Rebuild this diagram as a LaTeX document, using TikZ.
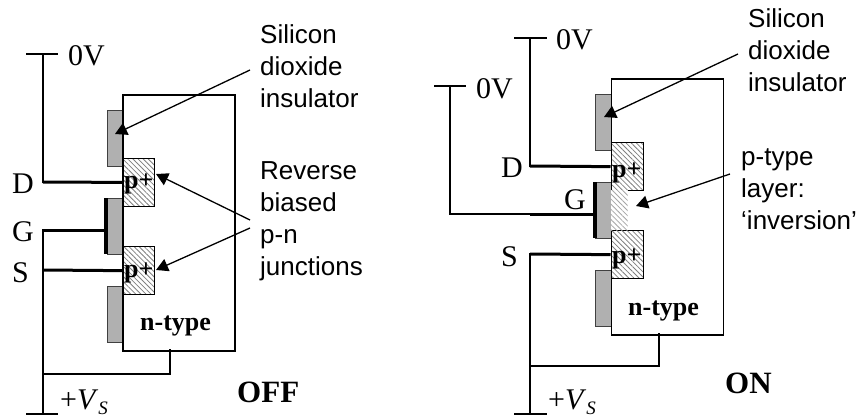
\documentclass[tikz,border=0pt]{standalone}
\usepackage{fontspec}
\setmainfont{Liberation Serif}
\newfontfamily\labelfont{Liberation Sans}
\usetikzlibrary{patterns.meta,arrows.meta}
\definecolor{oxidegray}{HTML}{B0B0B0}
\tikzset{
  x=1pt,y=-1pt,
  sub/.style={draw=black,line width=1.9pt,fill=white,minimum width=112pt,minimum height=256pt,inner sep=0pt,anchor=north west},
  subedge/.style={draw=black,line width=1.9pt,fill=none,minimum width=112pt,minimum height=256pt,inner sep=0pt,anchor=north west},
  oxide/.style={draw=black!75,line width=.8pt,fill=oxidegray,minimum width=15.5pt,minimum height=56pt,inner sep=0pt,anchor=north west},
  pplus/.style={draw=black,line width=1.3pt,minimum width=32pt,minimum height=48pt,inner sep=0pt,anchor=north west,
    pattern={Lines[angle=-45,distance=3.6pt,line width=.8pt]},pattern color=black!50},
  inv/.style={draw=none,minimum width=17pt,minimum height=40pt,inner sep=0pt,anchor=north west,fill=white},
  invh/.style={draw=none,minimum width=17pt,minimum height=40pt,inner sep=0pt,anchor=north west,
    pattern={Lines[angle=-45,distance=3.6pt,line width=.8pt]},pattern color=black!35},
  thinw/.style={line width=1.3pt,line cap=rect},
  thickw/.style={line width=3pt},
  gatebar/.style={line width=3.2pt},
  call/.style={line width=1.3pt,-{Triangle[length=12pt,width=13pt]}},
  sans/.style={anchor=base west,inner sep=0pt,font=\labelfont\fontsize{26}{26}\selectfont},
  serif/.style={anchor=base west,inner sep=0pt,font=\fontsize{30}{30}\selectfont},
  boldt/.style={anchor=base west,inner sep=0pt,font=\bfseries\fontsize{26}{26}\selectfont},
  state/.style={anchor=base west,inner sep=0pt,font=\bfseries\fontsize{31}{31}\selectfont},
}
\newcommand{\plusvs}{+\textit{V}\raisebox{-5.5pt}{\fontsize{19}{19}\selectfont\textit{S}}}
\begin{document}
\begin{tikzpicture}
\useasboundingbox (0,0) rectangle (859,418);
% ---------- OFF device ----------
\node[sub] (La) at (122,94) {};
\node[oxide] (Lo1) at (106.5,110) {};
\node[oxide] (Lo2) at (106.5,198) {};
\node[oxide] (Lo3) at (106.5,286) {};
\node[pplus] (Lp1) at (122,158) {};
\node[pplus] (Lp2) at (122,246) {};
\node[subedge] (Lb) at (122,94) {};
\coordinate (L0a) at (27,54);
\coordinate (L0b) at (57,54);
\coordinate (L0m) at (43,54);
\coordinate (LD) at (43,182);
\coordinate (LG) at (43,230);
\coordinate (LGe) at (106,230);
\coordinate (LS) at (43,270);
\coordinate (LVa) at (27,414);
\coordinate (LVb) at (57,414);
\coordinate (LVm) at (43,414);
\coordinate (Lj) at (43,374);
\coordinate (Lk) at (170,374);
\coordinate (Ln) at (170,350);
\coordinate (Lgt) at (106,198);
\coordinate (Lgb) at (106,254);
\draw[thinw] (L0a) -- (L0b);
\draw[thinw] (L0m) -- (LD);
\draw[thinw] (LVa) -- (LVb);
\draw[thinw] (LG) -- (LVm);
\draw[thinw] (Lj) -- (Lk) -- (Ln);
\draw[thickw] (LD) -- (Lp1.west);
\draw[thickw] (LG) -- (LGe);
\draw[thickw] (LS) -- (Lp2.west);
\draw[gatebar] (Lgt) -- (Lgb);
\node[boldt] (Lt1) at (124,188) {p+};
\node[boldt] (Lt2) at (124,277) {p+};
\node[boldt] (Ln1) at (140,330) {n-type};
\node[serif] (L0V) at (68,65) {0V};
\node[serif] (LDt) at (12,193) {D};
\node[serif] (LGt) at (12,241) {G};
\node[serif] (LSt) at (12,282) {S};
\node[serif] (LVs) at (60,409) {\plusvs};
\node[state] (LOFF) at (237,402) {OFF};
\node[sans] (Ls1) at (260,43) {Silicon};
\node[sans] (Ls2) at (260,75) {dioxide};
\node[sans] (Ls3) at (260,107) {insulator};
\node[sans] (Lr1) at (260,179) {Reverse};
\node[sans] (Lr2) at (260,211) {biased};
\node[sans] (Lr3) at (260,243) {p-n};
\node[sans] (Lr4) at (260,275) {junctions};
\coordinate (La1s) at (250,70);
\coordinate (La1e) at (115,134);
\coordinate (La2s) at (250,220);
\coordinate (La2e) at (156,174);
\coordinate (La3s) at (250,228);
\coordinate (La3e) at (156,270);
\draw[call] (La1s) -- (La1e);
\draw[call] (La2s) -- (La2e);
\draw[call] (La3s) -- (La3e);
% ---------- ON device ----------
\node[sub] (Ra) at (610.5,78) {};
\node[oxide] (Ro1) at (595,94) {};
\node[oxide] (Ro2) at (595,182) {};
\node[oxide] (Ro3) at (595,270) {};
\node[pplus] (Rp1) at (610.5,142) {};
\node[pplus] (Rp2) at (610.5,230) {};
\node[subedge] (Rb) at (610.5,78) {};
\node[inv] (Ri) at (610.5,190) {};
\node[invh] (Rh) at (610.5,190) {};
\coordinate (R0a) at (515,38);
\coordinate (R0b) at (546,38);
\coordinate (R0m) at (530,38);
\coordinate (RD) at (530,166);
\coordinate (R1a) at (435,86);
\coordinate (R1b) at (465,86);
\coordinate (R1m) at (450,86);
\coordinate (R1c) at (450,214);
\coordinate (RG) at (530,214);
\coordinate (RGe) at (595,214);
\coordinate (RS) at (530,254);
\coordinate (RVa) at (515,414);
\coordinate (RVb) at (546,414);
\coordinate (RVm) at (530,414);
\coordinate (Rj) at (530,366);
\coordinate (Rk) at (659,366);
\coordinate (Rn) at (659,334);
\coordinate (Rgt) at (595,182);
\coordinate (Rgb) at (595,238);
\draw[thinw] (R0a) -- (R0b);
\draw[thinw] (R0m) -- (RD);
\draw[thinw] (R1a) -- (R1b);
\draw[thinw] (R1m) -- (R1c) -- (RG);
\draw[thinw] (RVa) -- (RVb);
\draw[thinw] (RS) -- (RVm);
\draw[thinw] (Rj) -- (Rk) -- (Rn);
\draw[thickw] (RD) -- (Rp1.west);
\draw[thickw] (RG) -- (RGe);
\draw[thickw] (RS) -- (Rp2.west);
\draw[gatebar] (Rgt) -- (Rgb);
\node[boldt] (Rt1) at (612,177) {p+};
\node[boldt] (Rt2) at (612,263) {p+};
\node[boldt] (Rn1) at (628,315) {n-type};
\node[serif] (R0V) at (556,49) {0V};
\node[serif] (R1V) at (476,98) {0V};
\node[serif] (RDt) at (501,177) {D};
\node[serif] (RGt) at (564,209) {G};
\node[serif] (RSt) at (501,266) {S};
\node[serif] (RVs) at (548,409) {\plusvs};
\node[state] (RON) at (725,393) {ON};
\node[sans] (Rs1) at (748,27) {Silicon};
\node[sans] (Rs2) at (748,59) {dioxide};
\node[sans] (Rs3) at (748,91) {insulator};
\node[sans] (Rl1) at (741,165) {p-type};
\node[sans] (Rl2) at (741,197) {layer:};
\node[sans] (Rl3) at (741,229) {‘inversion’};
\coordinate (Ra1s) at (738,54);
\coordinate (Ra1e) at (604,117);
\coordinate (Ra2s) at (730,174);
\coordinate (Ra2e) at (636,206);
\draw[call] (Ra1s) -- (Ra1e);
\draw[call] (Ra2s) -- (Ra2e);
\end{tikzpicture}
\end{document}
